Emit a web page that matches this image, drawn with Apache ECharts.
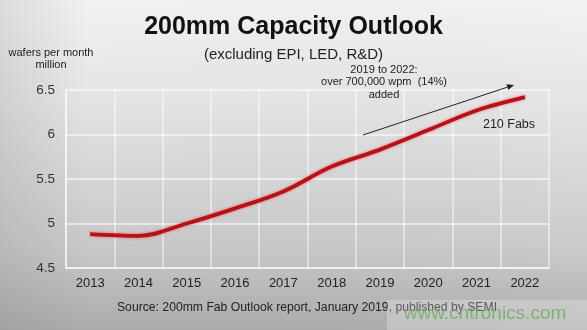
<!DOCTYPE html>
<html>
<head>
<meta charset="utf-8">
<script src="https://cdn.jsdelivr.net/npm/echarts@6/dist/echarts.min.js"></script>
<style>
  html, body { margin: 0; padding: 0; }
  #chart { width: 587px; height: 330px; }
</style>
</head>
<body>
<div id="chart"></div>
<script>
// 200mm fab capacity, million wafers per month
const years = ['2013', '2014', '2015', '2016', '2017', '2018', '2019', '2020', '2021', '2022'];
const capacity = [4.88, 4.86, 5.00, 5.17, 5.36, 5.64, 5.83, 6.05, 6.27, 6.42];
const yMin = 4.5;
const yMax = 6.5;
const yStep = 0.5;

const FONT = 'Liberation Sans, Arial, sans-serif';
const chart = echarts.init(document.getElementById('chart'));

// arrow for the 2019-2022 note
const a0 = [363, 135], a1 = [514, 85];
const ang = Math.atan2(a1[1] - a0[1], a1[0] - a0[0]);
const headLen = 7, headW = 3;
const bx = a1[0] - headLen * Math.cos(ang), by = a1[1] - headLen * Math.sin(ang);
const head = [
  a1,
  [bx + headW * Math.sin(ang), by - headW * Math.cos(ang)],
  [bx - headW * Math.sin(ang), by + headW * Math.cos(ang)]
];

chart.setOption({
  backgroundColor: new echarts.graphic.LinearGradient(0, 0, 0, 1, [
    { offset: 0, color: '#f2f2f2' },
    { offset: 0.3, color: '#e4e4e4' },
    { offset: 0.75, color: '#c8c8c8' },
    { offset: 1, color: '#ababab' }
  ]),
  title: {
    text: '200mm Capacity Outlook',
    subtext: '(excluding EPI, LED, R&D)',
    left: 'center',
    top: 10,
    itemGap: 7,
    textStyle: { fontFamily: FONT, fontSize: 25, fontWeight: 'bold', color: '#111' },
    subtextStyle: { fontFamily: FONT, fontSize: 15, color: '#222' }
  },
  grid: { left: 66, right: 38, top: 90, bottom: 62 },
  xAxis: {
    type: 'category',
    data: years,
    boundaryGap: true,
    axisLine: { lineStyle: { color: 'rgba(255,255,255,0.7)', width: 1.5 } },
    axisTick: { show: false },
    axisLabel: { fontFamily: FONT, fontSize: 13, color: '#222', margin: 9 },
    splitLine: { show: true, interval: 0, lineStyle: { color: 'rgba(255,255,255,0.6)', width: 1.5 } }
  },
  yAxis: {
    type: 'value',
    min: yMin,
    max: yMax,
    interval: yStep,
    name: 'wafers per month\nmillion',
    nameLocation: 'end',
    nameGap: 19,
    nameTextStyle: { fontFamily: FONT, fontSize: 11, color: '#222', align: 'center', lineHeight: 12, padding: [0, 30, 0, 0] },
    axisLine: { show: true, lineStyle: { color: 'rgba(255,255,255,0.7)', width: 1.5 } },
    axisTick: { show: false },
    axisLabel: { fontFamily: FONT, fontSize: 13.5, color: '#333', margin: 11 },
    splitLine: { show: true, lineStyle: { color: 'rgba(255,255,255,0.72)', width: 1.5 } }
  },
  series: [{
    type: 'line',
    data: capacity,
    smooth: 0.35,
    symbol: 'none',
    lineStyle: {
      color: '#b3131b',
      width: 3.8,
      shadowColor: 'rgba(255,80,80,0.9)',
      shadowBlur: 3
    },
    z: 5
  }],
  graphic: [
    {
      type: 'rect', left: 0, top: 0, z: -1, silent: true,
      shape: { width: 587, height: 330 },
      style: {
        fill: new echarts.graphic.LinearGradient(0, 0, 1, 0, [
          { offset: 0, color: 'rgba(120,120,120,0.18)' },
          { offset: 0.15, color: 'rgba(120,120,120,0)' },
          { offset: 1, color: 'rgba(255,255,255,0.05)' }
        ])
      }
    },
    {
      type: 'text', x: 384, y: 82, z: 10,
      style: {
        text: '2019 to 2022:\nover 700,000 wpm  (14%)\nadded',
        fontFamily: FONT, fontSize: 11, lineHeight: 12.5, fill: '#222',
        align: 'center', verticalAlign: 'middle'
      }
    },
    {
      type: 'line', z: 10,
      shape: { x1: a0[0], y1: a0[1], x2: bx, y2: by },
      style: { stroke: '#222', lineWidth: 1 }
    },
    {
      type: 'polygon', z: 10,
      shape: { points: head },
      style: { fill: '#222' }
    },
    {
      type: 'text', x: 509, y: 125, z: 10,
      style: {
        text: '210 Fabs', fontFamily: FONT, fontSize: 12.5, fill: '#222',
        align: 'center', verticalAlign: 'middle'
      }
    },
    {
      type: 'text', x: 307, y: 308, z: 10,
      style: {
        text: 'Source: 200mm Fab Outlook report, January 2019, published by SEMI',
        fontFamily: FONT, fontSize: 12.2, fill: '#222',
        align: 'center', verticalAlign: 'middle'
      }
    },
    {
      type: 'rect', left: 387, top: 300, z: 11, silent: true,
      shape: { width: 200, height: 30 },
      style: { fill: 'rgba(255,255,255,0.25)' }
    },
    {
      type: 'text', x: 485, y: 314, z: 12,
      style: {
        text: 'www.cntronics.com', fontFamily: FONT, fontSize: 19,
        fill: 'rgba(110,165,95,0.75)', align: 'center', verticalAlign: 'middle'
      }
    }
  ]
});
</script>
</body>
</html>
